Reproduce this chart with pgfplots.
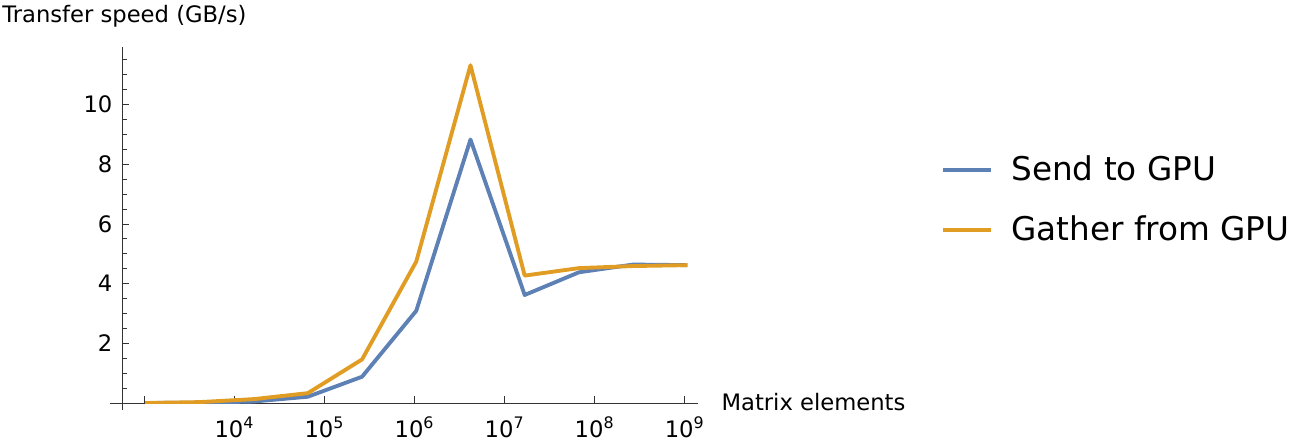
\documentclass[border=0pt]{standalone}
\usepackage{pgfplots}
\pgfplotsset{compat=1.18}
\usepackage{fontspec}
\setmainfont{DejaVu Sans}
\definecolor{mblue}{HTML}{5E81B5}
\definecolor{morange}{HTML}{E19C24}
\begin{document}
\begin{tikzpicture}
\begin{axis}[
  at={(0,0)}, anchor=south west,
  scale only axis, width=432.2pt, height=267.2pt,
  xmode=log, log basis x=10,
  xmin=566, xmax=1.42e9, ymin=0, ymax=11.94,
  axis lines=left,
  axis line style={-, black!80, line width=0.6pt},
  x axis line style={shorten <=-9pt},
  y axis line style={shorten <=-5.25pt},
  tick style={black!80, line width=0.6pt},
  tick align=inside,
  major tick length=5pt, minor tick length=3.5pt,
  xtick={1e3,1e4,1e5,1e6,1e7,1e8,1e9},
  xticklabels={{},{10\textsuperscript{4}},{10\textsuperscript{5}},{10\textsuperscript{6}},{10\textsuperscript{7}},{10\textsuperscript{8}},{10\textsuperscript{9}}},
  minor xtick={},
  ytick={0,2,4,6,8,10},
  yticklabels={{},2,4,6,8,10},
  minor ytick={0.5,1,1.5,2.5,3,3.5,4.5,5,5.5,6.5,7,7.5,8.5,9,9.5,10.5,11,11.5},
  /pgf/number format/assume math mode=true,
  ticklabel style={font=\fontsize{17pt}{20pt}\selectfont, inner sep=0pt},
  xticklabel style={anchor=base, yshift=-25.5pt},
  yticklabel style={anchor=east, xshift=-7pt},
  xlabel={Matrix elements},
  ylabel={Transfer speed (GB/s)},
  label style={font=\fontsize{17pt}{20pt}\selectfont, inner sep=0pt},
  xlabel style={at={(axis description cs:1,0)}, anchor=base west, xshift=17.25pt, yshift=-5.8pt},
  ylabel style={at={(axis description cs:0,1)}, rotate=-90, anchor=west, xshift=-90pt, yshift=22.5pt},
  legend style={at={(1.4216,0.5697)}, anchor=west, draw=none, fill=none,
    inner sep=0pt, outer sep=0pt,
    font=\fontsize{24.5pt}{28pt}\selectfont,
    nodes={inner sep=0pt, anchor=west, text height=18.5pt, text depth=2.5pt},
    column sep=14pt, row sep=24pt},
  legend cell align=left,
  legend image code/.code={\draw[#1, line width=2.6pt] (0pt,0pt) -- (36pt,0pt);},
]
\addplot[mblue, line width=2.9pt, line join=round] coordinates {
  (1024,0.00) (4096,0.01) (16384,0.05) (65536,0.21) (262144,0.88)
  (1048576,3.09) (4194304,8.83) (16777216,3.62) (67108864,4.38)
  (268435456,4.64) (1073741824,4.62)};
\addlegendentry{Send to GPU}
\addplot[morange, line width=2.9pt, line join=round] coordinates {
  (1024,0.00) (4096,0.03) (16384,0.13) (65536,0.33) (262144,1.46)
  (1048576,4.74) (4194304,11.32) (16777216,4.27) (67108864,4.52)
  (268435456,4.59) (1073741824,4.62)};
\addlegendentry{Gather from GPU}
\end{axis}
\path (-91.5pt,-32.25pt) rectangle (885pt,302.25pt);
\end{tikzpicture}
\end{document}
